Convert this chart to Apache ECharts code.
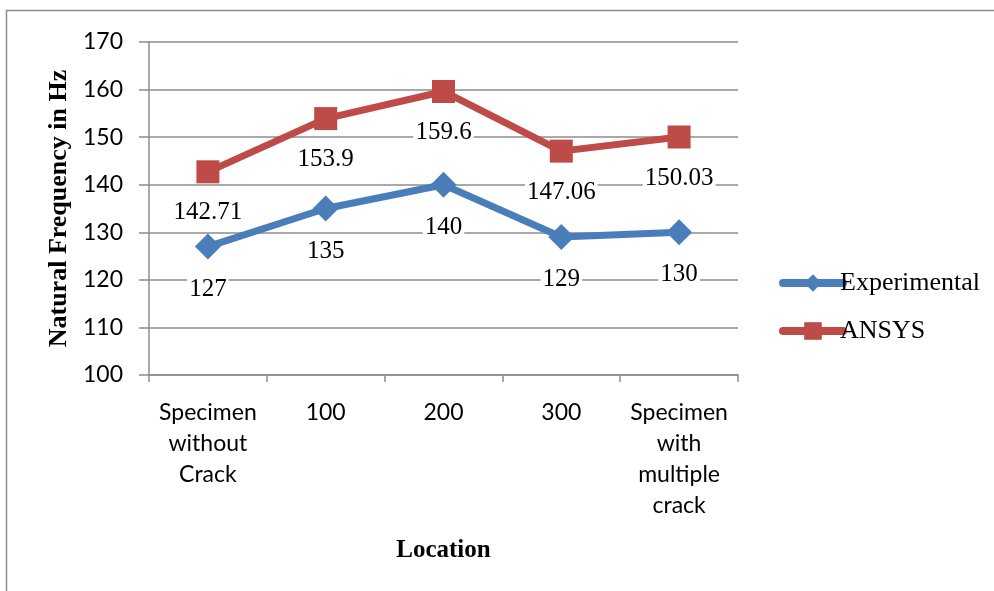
<!DOCTYPE html>
<html>
<head>
<meta charset="utf-8">
<script src="https://cdn.jsdelivr.net/npm/echarts@6/dist/echarts.min.js"></script>
<style>
  html, body { margin: 0; padding: 0; background: #fff; }
  #chart { width: 994px; height: 591px; }
</style>
</head>
<body>
<div id="chart"></div>
<script>
// Natural frequency by crack location
const categories = ['Specimen\nwithout\nCrack', '100', '200', '300', 'Specimen\nwith\nmultiple\ncrack'];
const experimental = [127, 135, 140, 129, 130];
const ansys = [142.71, 153.9, 159.6, 147.06, 150.03];
const yTicks = { min: 100, max: 170, interval: 10 };

const serif = '"Liberation Serif", "DejaVu Serif", serif';
const sans = 'Lato, "Open Sans", sans-serif';
const axisGrey = '#8c8c8c';

const chart = echarts.init(document.getElementById('chart'));

function dataLabel() {
  return {
    show: true,
    position: 'bottom',
    distance: 17,
    fontFamily: serif,
    fontSize: 25,
    color: '#000',
    backgroundColor: '#fff',
    padding: [0, 2]
  };
}

chart.setOption({
  animation: false,
  backgroundColor: '#fff',
  graphic: [{
    type: 'rect',
    shape: { x: 6.5, y: 10.5, width: 1000, height: 600 },
    style: { fill: 'none', stroke: axisGrey, lineWidth: 1.5 },
    silent: true,
    z: -1
  }],
  grid: { left: 149, top: 42, width: 589, height: 333, containLabel: false },
  legend: {
    orient: 'vertical',
    left: 774,
    top: 265,
    itemWidth: 60,
    itemHeight: 22,
    itemGap: 22,
    lineStyle: { width: 8, cap: 'round' },
    textStyle: { fontFamily: serif, fontSize: 26, color: '#000', padding: [0, 0, 0, -8] },
    data: ['Experimental', 'ANSYS']
  },
  xAxis: {
    type: 'category',
    data: categories,
    boundaryGap: true,
    name: 'Location',
    nameLocation: 'middle',
    nameGap: 163,
    nameTextStyle: { fontFamily: serif, fontSize: 25, fontWeight: 'bold', color: '#000' },
    axisLine: { lineStyle: { color: axisGrey, width: 1.5 } },
    axisTick: { show: true, length: 7, alignWithLabel: false, lineStyle: { color: axisGrey, width: 1.5 } },
    axisLabel: { fontFamily: sans, fontSize: 23, color: '#000', lineHeight: 31, margin: 22, interval: 0 }
  },
  yAxis: {
    type: 'value',
    min: yTicks.min,
    max: yTicks.max,
    interval: yTicks.interval,
    name: 'Natural Frequency in Hz',
    nameLocation: 'middle',
    nameGap: 74,
    nameTextStyle: { fontFamily: serif, fontSize: 26, fontWeight: 'bold', color: '#000' },
    axisLine: { show: true, lineStyle: { color: axisGrey, width: 1.5 } },
    axisTick: { show: true, length: 10, lineStyle: { color: axisGrey, width: 1.5 } },
    axisLabel: { fontFamily: sans, fontSize: 23, color: '#000', margin: 26 },
    splitLine: { show: true, lineStyle: { color: axisGrey, width: 1.5 } }
  },
  series: [
    {
      name: 'Experimental',
      type: 'line',
      data: experimental,
      symbol: 'diamond',
      symbolSize: 26,
      itemStyle: { color: '#4A7EBB' },
      lineStyle: { color: '#4A7EBB', width: 7 },
      label: dataLabel(),
      z: 3
    },
    {
      name: 'ANSYS',
      type: 'line',
      data: ansys,
      symbol: 'rect',
      symbolSize: 23,
      itemStyle: { color: '#BE4B48' },
      lineStyle: { color: '#BE4B48', width: 7 },
      label: dataLabel(),
      z: 3
    }
  ]
});
</script>
</body>
</html>
